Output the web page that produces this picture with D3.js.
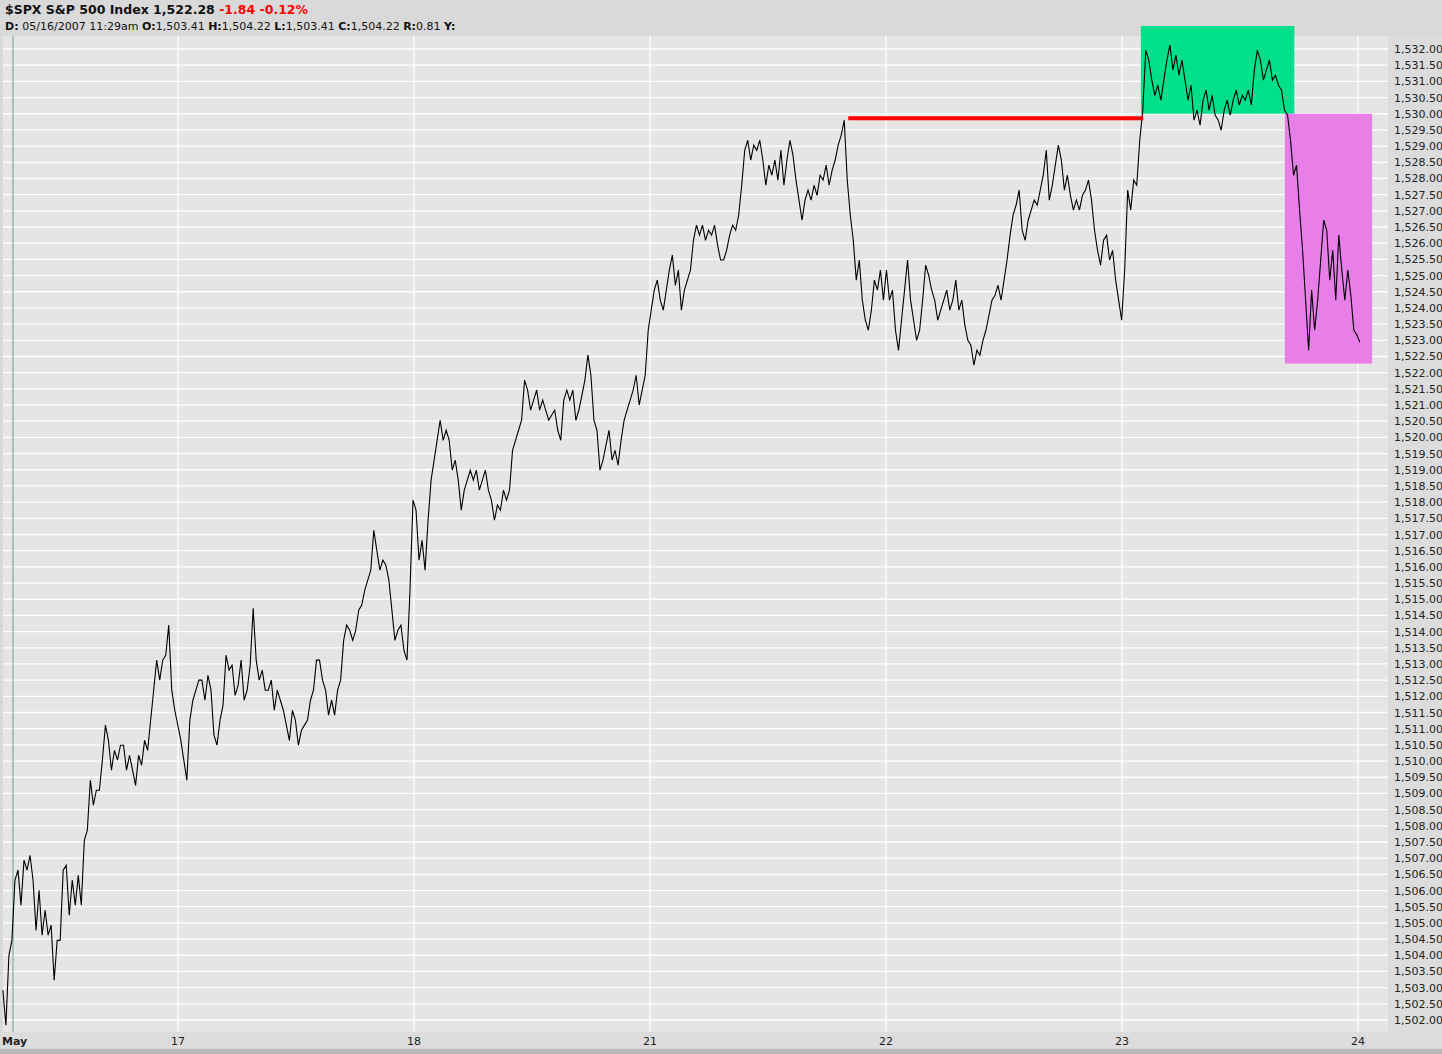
<!DOCTYPE html>
<html><head><meta charset="utf-8">
<script src="https://cdn.jsdelivr.net/npm/d3@7"></script>
<style>body{margin:0;background:#fff;font-family:"DejaVu Sans",Verdana,sans-serif}</style>
</head><body>
<svg id="chart" width="1442" height="1054"></svg>
<script>
// SPX intraday prices, evenly spaced bars from May 16 afternoon to May 23 close
const prices = [1502.92,1501.84,1504.00,1504.46,1506.32,1506.63,1505.55,1506.94,1506.63,1507.09,1506.32,1504.77,1506.01,1504.62,1505.39,1504.62,1504.93,1503.23,1504.46,1504.46,
1506.63,1506.78,1505.24,1506.32,1505.55,1506.47,1505.55,1507.55,1507.86,1509.41,1508.64,1509.10,1509.10,1510.03,1511.11,1510.64,1509.72,1510.33,1510.03,1510.49,
1510.49,1509.72,1510.18,1509.72,1509.25,1510.18,1509.87,1510.64,1510.33,1511.26,1512.19,1513.12,1512.50,1513.12,1513.27,1514.20,1512.19,1511.57,1511.11,1510.64,
1510.03,1509.41,1511.26,1511.88,1512.19,1512.50,1512.50,1511.88,1512.65,1512.19,1510.80,1510.49,1511.26,1511.73,1513.27,1512.81,1512.96,1512.03,1512.34,1513.12,
1511.88,1512.19,1512.96,1514.72,1513.12,1512.50,1512.81,1512.19,1512.19,1512.50,1511.57,1512.19,1511.88,1511.57,1511.11,1510.64,1511.57,1511.26,1510.49,1510.95,
1511.11,1511.26,1511.88,1512.19,1513.12,1513.12,1512.50,1512.19,1511.42,1511.88,1511.42,1512.19,1512.50,1513.73,1514.20,1514.04,1513.73,1514.04,1514.66,1514.82,
1515.28,1515.59,1515.90,1517.13,1516.51,1515.90,1516.21,1516.05,1515.59,1514.66,1513.73,1514.04,1514.20,1513.42,1513.12,1515.28,1518.06,1517.75,1516.21,1516.82,
1515.90,1517.44,1518.68,1519.30,1519.91,1520.53,1519.91,1520.22,1519.91,1518.99,1519.30,1518.68,1517.75,1518.37,1518.68,1518.99,1518.68,1518.99,1518.37,1518.68,
1518.99,1518.37,1518.06,1517.44,1517.91,1517.75,1518.37,1518.06,1518.37,1519.60,1519.91,1520.22,1520.53,1521.77,1521.46,1520.84,1521.15,1521.46,1520.84,1521.15,
1520.84,1520.53,1520.69,1520.84,1520.22,1519.91,1521.15,1521.46,1521.15,1521.46,1520.53,1520.84,1521.30,1521.77,1522.54,1521.92,1520.53,1520.22,1518.99,1519.30,
1519.76,1520.22,1519.30,1519.60,1519.14,1519.91,1520.53,1520.84,1521.15,1521.46,1521.92,1521.00,1521.46,1521.92,1523.31,1523.93,1524.55,1524.86,1524.24,1523.93,
1524.55,1525.17,1525.63,1524.70,1525.17,1523.93,1524.55,1524.86,1525.17,1526.09,1526.56,1526.25,1526.56,1526.09,1526.40,1526.25,1526.56,1525.94,1525.48,1525.48,
1525.78,1526.25,1526.56,1526.40,1526.87,1527.79,1528.87,1529.18,1528.57,1529.03,1528.87,1529.18,1528.57,1527.79,1528.41,1528.10,1528.57,1527.95,1528.87,1527.79,
1528.57,1529.18,1528.72,1527.95,1527.33,1526.71,1527.33,1527.64,1527.33,1527.79,1527.48,1528.10,1527.95,1528.41,1527.79,1528.26,1528.57,1529.03,1529.34,1529.80,
1527.95,1526.87,1526.09,1524.86,1525.48,1524.24,1523.62,1523.31,1523.93,1524.86,1524.55,1525.17,1524.24,1525.17,1524.24,1524.55,1523.31,1522.69,1523.62,1524.55,
1525.48,1524.24,1523.62,1523.00,1523.31,1524.24,1525.32,1525.01,1524.55,1524.24,1523.62,1523.93,1524.24,1524.55,1523.93,1524.24,1524.86,1523.93,1524.24,1523.47,
1523.00,1522.85,1522.23,1522.69,1522.54,1523.00,1523.31,1523.78,1524.24,1524.39,1524.70,1524.24,1524.86,1525.48,1526.25,1526.87,1527.18,1527.64,1526.40,1526.09,
1526.71,1527.02,1527.33,1527.18,1527.64,1528.10,1528.87,1527.33,1527.79,1528.41,1529.03,1528.57,1527.64,1528.10,1527.48,1527.02,1527.33,1527.02,1527.48,1527.64,
1527.95,1527.33,1526.40,1525.78,1525.32,1526.09,1526.25,1525.48,1525.78,1524.86,1524.24,1523.62,1525.17,1527.64,1527.02,1527.95,1527.79,1529.18,1530.11,1531.96,
1531.66,1531.04,1530.57,1530.88,1530.42,1531.04,1531.66,1532.12,1531.35,1531.81,1531.19,1531.66,1531.04,1530.42,1530.88,1529.80,1530.11,1529.65,1530.42,1530.73,
1530.11,1530.57,1529.96,1529.80,1529.49,1530.11,1530.42,1529.96,1530.42,1530.73,1530.27,1530.57,1530.42,1530.73,1530.27,1531.35,1531.96,1531.66,1531.04,1531.35,
1531.66,1531.04,1531.19,1530.88,1530.73,1530.11,1529.96,1529.18,1528.10,1528.41,1527.02,1525.78,1524.24,1522.69,1524.55,1523.31,1524.24,1525.48,1526.71,1526.40,
1524.86,1525.78,1524.24,1526.25,1525.17,1524.24,1525.17,1524.39,1523.31,1523.16,1522.94];

// time span of the bars, in trading-day units (1 = start of May 17)
const startDay = 0.258, endDay = 6.008;
const dayTicks = [0.04, 1, 2, 3, 4, 5, 6];
const dayLabels = ["May", "17", "18", "21", "22", "23", "24"];
const priceTicks = d3.range(1502, 1532.01, 0.5);

// annotations
const resistance = {from: 3.84, to: 5.09, price: 1529.86};
const greenBox = {from: 5.08, to: 5.73, top: 1532.71, bottom: 1530.0};
const pinkBox = {from: 5.69, to: 6.06, top: 1530.0, bottom: 1522.28};

const svg = d3.select("#chart");
const plot = {left: 3, right: 1388, top: 36, bottom: 1032};

const x = d3.scaleLinear().domain([1, 6]).range([178, 1358]);
const y = d3.scaleLinear().domain([1502, 1532]).range([1020, 49]);

// header
svg.append("rect").attr("width", 1442).attr("height", 1054).attr("fill", "#d9d9d9");
svg.append("rect").attr("x", plot.left).attr("y", plot.top)
   .attr("width", plot.right - plot.left).attr("height", plot.bottom - plot.top).attr("fill", "#e5e5e5");
svg.append("rect").attr("x", plot.right).attr("y", plot.top).attr("width", 54).attr("height", plot.bottom - plot.top).attr("fill", "#dcdcdc");

// grid
svg.append("g").selectAll("line").data(priceTicks).join("line")
   .attr("x1", plot.left).attr("x2", plot.right).attr("y1", d => y(d)).attr("y2", d => y(d))
   .attr("stroke", "#fff").attr("stroke-width", 1.3);
svg.append("g").selectAll("line").data(dayTicks.slice(1)).join("line")
   .attr("x1", d => x(d)).attr("x2", d => x(d)).attr("y1", plot.top).attr("y2", plot.bottom)
   .attr("stroke", "#fff").attr("stroke-width", 1.3);

// cursor line
svg.append("line").attr("x1", 13).attr("x2", 13).attr("y1", plot.top).attr("y2", plot.bottom)
   .attr("stroke", "#6a9a9a").attr("stroke-width", 1);

// boxes
svg.append("rect").attr("x", x(greenBox.from)).attr("y", y(greenBox.top))
   .attr("width", x(greenBox.to) - x(greenBox.from)).attr("height", y(greenBox.bottom) - y(greenBox.top))
   .attr("fill", "#00e08a");
svg.append("rect").attr("x", x(pinkBox.from)).attr("y", y(pinkBox.top))
   .attr("width", x(pinkBox.to) - x(pinkBox.from)).attr("height", y(pinkBox.bottom) - y(pinkBox.top))
   .attr("fill", "#e87ee8");

// price line
const step = (endDay - startDay) / (prices.length - 1);
const line = d3.line().x((d, i) => x(startDay + i * step)).y(d => y(d));
svg.append("path").datum(prices).attr("d", line)
   .attr("fill", "none").attr("stroke", "#000").attr("stroke-width", 1.1);

// resistance line
svg.append("line").attr("x1", x(resistance.from)).attr("x2", x(resistance.to))
   .attr("y1", y(resistance.price)).attr("y2", y(resistance.price))
   .attr("stroke", "#ff0000").attr("stroke-width", 4);

// right axis labels
svg.append("g").selectAll("text").data(priceTicks).join("text")
   .attr("x", 1394).attr("y", d => y(d) + 4)
   .attr("font-size", 11).attr("fill", "#222")
   .text(d => d3.format(",.2f")(d));

// bottom axis band
svg.append("rect").attr("x", 0).attr("y", plot.bottom).attr("width", 1442).attr("height", 16).attr("fill", "#dcdcdc");
svg.append("rect").attr("x", 0).attr("y", 1049).attr("width", 1442).attr("height", 5).attr("fill", "#b8b8b8");
svg.append("g").selectAll("text").data(dayTicks).join("text")
   .attr("x", (d, i) => i === 0 ? 2 : x(d)).attr("y", 1045)
   .attr("text-anchor", (d, i) => i === 0 ? "start" : "middle")
   .attr("font-size", 11).attr("font-weight", (d, i) => i === 0 ? "bold" : "normal").attr("fill", "#222")
   .text((d, i) => dayLabels[i]);

// title lines
const t1 = svg.append("text").attr("x", 5).attr("y", 14).attr("font-size", 12.5).attr("font-weight", "bold");
t1.append("tspan").attr("fill", "#111").text("$SPX S&P 500 Index  1,522.28  ");
t1.append("tspan").attr("fill", "#ff0000").text("-1.84  -0.12%");
const t2 = svg.append("text").attr("x", 5).attr("y", 30).attr("font-size", 11).attr("fill", "#111");
[["D: ", "05/16/2007  11:29am "], ["O:", "1,503.41 "], ["H:", "1,504.22 "], ["L:", "1,503.41 "], ["C:", "1,504.22 "], ["R:", "0.81 "], ["Y:", ""]]
  .forEach(([k, v]) => {
    t2.append("tspan").attr("font-weight", "bold").text(k);
    t2.append("tspan").text(v);
  });
</script>
</body></html>
